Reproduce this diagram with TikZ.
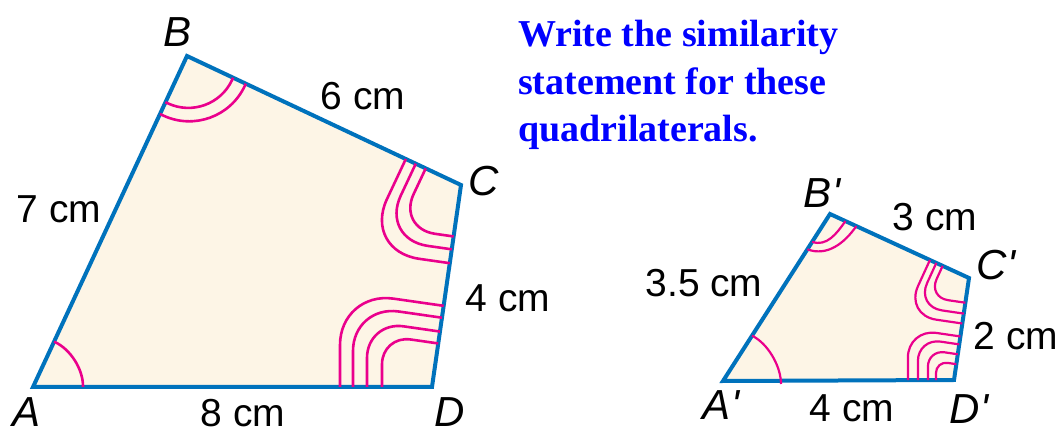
\documentclass[tikz,border=0pt]{standalone}
\usepackage{fontspec}
\setmainfont{Liberation Serif}
\newfontfamily\labfont{Liberation Sans}
\usetikzlibrary{calc}
\definecolor{edgeblue}{RGB}{0,114,188}
\definecolor{arcpink}{RGB}{234,0,140}
\definecolor{cream}{RGB}{253,245,230}
\definecolor{titleblue}{RGB}{0,0,255}
\tikzset{
  quad/.style={draw=edgeblue, fill=cream, line width=4pt, line join=miter},
  angarc/.style={draw=arcpink, line width=2.6pt},
  smallarc/.style={draw=arcpink, line width=2.2pt},
  vlabel/.style={font=\labfont\itshape\fontsize{42}{42}\selectfont, inner sep=0},
  mlabel/.style={font=\labfont\fontsize{39}{39}\selectfont, inner sep=0},
  titleline/.style={font=\rmfamily\bfseries\fontsize{38}{47}\selectfont, text=titleblue, anchor=base west, inner sep=0},
}
% #1 style, #2 vertex, #3 #4 neighbours, #5 #6 distances, #7 corner radius
\newcommand\angarcs[7]{%
  \path ($(#2)!#5!(#3)$) coordinate (s1) ($(#2)!#6!(#4)$) coordinate (s2)
        ($(s1)!1!90:(#2)$) coordinate (t1) ($(s2)!1!90:(#2)$) coordinate (t2);
  \draw[#1, rounded corners=#7] (s1) -- (intersection of s1--t1 and s2--t2) -- (s2);}
% #1 style, #2 vertex, #3 #4 neighbours, #5 #6 distances, #7 out, #8 in
\newcommand\angcurve[8]{%
  \path ($(#2)!#5!(#3)$) coordinate (s1) ($(#2)!#6!(#4)$) coordinate (s2);
  \draw[#1] (s1) to[out=#7, in=#8] (s2);}
\begin{document}
\begin{tikzpicture}[x=1pt,y=-1pt]
\path[fill=white] (0,0) rectangle (1061,435);
\useasboundingbox (0,0) rectangle (1061,435);
% large quadrilateral
\coordinate (A) at (33,387);
\coordinate (B) at (187,56);
\coordinate (C) at (461,185);
\coordinate (D) at (432,387);
\draw[quad] (A) -- (B) -- (C) -- (D) -- cycle;
\angarcs{angarc}{A}{B}{D}{50pt}{50pt}{31pt}
\angarcs{angarc}{B}{A}{C}{51pt}{51pt}{48pt}
\angarcs{angarc}{B}{A}{C}{64pt}{65pt}{61pt}
\angarcs{angarc}{C}{B}{D}{39pt}{52pt}{38pt}
\angarcs{angarc}{C}{B}{D}{50pt}{65pt}{48pt}
\angarcs{angarc}{C}{B}{D}{61pt}{79pt}{57pt}
\angarcs{angarc}{D}{A}{C}{50pt}{44pt}{29pt}
\angarcs{angarc}{D}{A}{C}{65pt}{56pt}{37pt}
\angarcs{angarc}{D}{A}{C}{79pt}{70pt}{46pt}
\angarcs{angarc}{D}{A}{C}{92pt}{82pt}{54pt}
% small quadrilateral
\coordinate (A2) at (723,381);
\coordinate (B2) at (830,214);
\coordinate (C2) at (969,278);
\coordinate (D2) at (954,380);
\draw[quad] (A2) -- (B2) -- (C2) -- (D2) -- cycle;
\angarcs{smallarc}{A2}{B2}{D2}{54pt}{58pt}{30pt}
\angcurve{smallarc}{B2}{A2}{C2}{33pt}{17pt}{-20}{-125}
\angcurve{smallarc}{B2}{A2}{C2}{42pt}{29pt}{-20}{-125}
\angarcs{smallarc}{C2}{B2}{D2}{29pt}{25pt}{20pt}
\angarcs{smallarc}{C2}{B2}{D2}{36pt}{36pt}{26pt}
\angarcs{smallarc}{C2}{B2}{D2}{43pt}{46pt}{32pt}
\angarcs{smallarc}{D2}{A2}{C2}{18pt}{16pt}{12pt}
\angarcs{smallarc}{D2}{A2}{C2}{26pt}{26pt}{17pt}
\angarcs{smallarc}{D2}{A2}{C2}{36pt}{36pt}{23pt}
\angarcs{smallarc}{D2}{A2}{C2}{46pt}{44pt}{29pt}
% vertex labels
\node[vlabel] (lA) at (27,412) {A};
\node[vlabel] (lB) at (178,32) {B};
\node[vlabel] (lC) at (484,181) {C};
\node[vlabel] (lD) at (450,412) {D};
\node[vlabel] (lA2) at (721,405) {A\textquotesingle};
\node[vlabel] (lB2) at (822,193) {B\textquotesingle};
\node[vlabel] (lC2) at (996,265) {C\textquotesingle};
\node[vlabel] (lD2) at (969,409) {D\textquotesingle};
% measure labels
\node[mlabel] (mAB) at (59,209) {7 cm};
\node[mlabel] (mBC) at (363,96) {6 cm};
\node[mlabel] (mCD) at (508,298) {4 cm};
\node[mlabel] (mAD) at (243,413) {8 cm};
\node[mlabel] (mA2B2) at (704,283) {3.5 cm};
\node[mlabel] (mB2C2) at (935,217) {3 cm};
\node[mlabel] (mC2D2) at (1016,336) {2 cm};
\node[mlabel] (mA2D2) at (852,408) {4 cm};
% title
\node[titleline] (t1) at (518,47) {Write the similarity};
\node[titleline] (t2) at (518,95) {statement for these};
\node[titleline] (t3) at (518,142) {quadrilaterals.};
\end{tikzpicture}
\end{document}
